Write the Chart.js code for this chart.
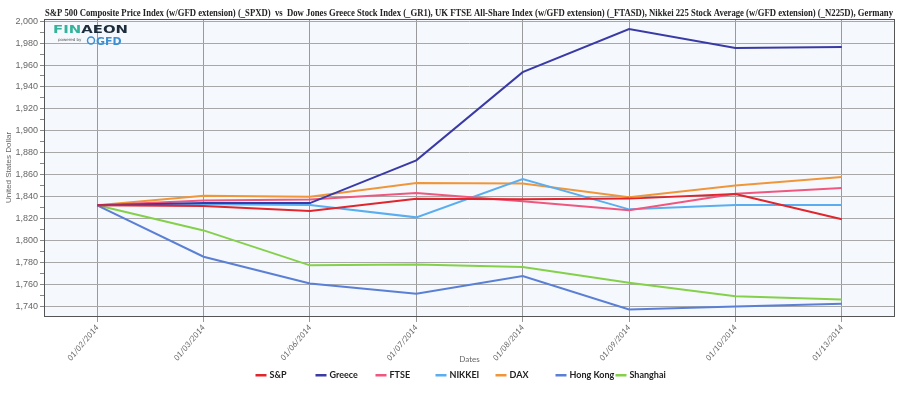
<!DOCTYPE html>
<html lang="en">
<head>
  <meta charset="UTF-8" />
  <title>S&amp;P 500 vs world indices</title>
  <script src="https://cdn.jsdelivr.net/npm/chart.js"></script>
  <style>
    html, body { margin: 0; padding: 0; background: #fff; }
    #wrap { width: 910px; height: 397px; }
  </style>
</head>
<body>
  <div id="wrap"><canvas id="chart" width="910" height="397"></canvas></div>
  <script>
    // Data (rebased to S&P 500 on 01/02/2014)
    const dates = ['01/02/2014','01/03/2014','01/06/2014','01/07/2014','01/08/2014','01/09/2014','01/10/2014','01/13/2014'];
    const sp       = [1832.0, 1831.4, 1826.8, 1837.9, 1837.5, 1838.1, 1842.4, 1819.2];
    const greece   = [1832.0, 1834.0, 1834.0, 1873.0, 1953.5, 1992.8, 1975.6, 1976.5];
    const ftse     = [1832.0, 1836.3, 1837.4, 1843.2, 1835.6, 1827.4, 1842.6, 1847.8];
    const nikkei   = [1832.0, 1833.0, 1832.2, 1821.0, 1856.0, 1828.3, 1832.2, 1832.2];
    const dax      = [1832.0, 1840.8, 1839.9, 1852.3, 1852.0, 1839.3, 1850.0, 1857.8];
    const hongKong = [1832.0, 1785.1, 1760.7, 1751.3, 1767.4, 1737.0, 1739.7, 1742.2];
    const shanghai = [1832.0, 1809.1, 1777.2, 1778.1, 1775.6, 1761.4, 1749.1, 1746.1];

    const titleText = 'S&P 500 Composite Price Index (w/GFD extension) (_SPXD)  vs  Dow Jones Greece Stock Index (_GR1), UK FTSE All-Share Index (w/GFD extension) (_FTASD), Nikkei 225 Stock Average (w/GFD extension) (_N225D), Germany';

    const series = [
      { label: 'S&P',       data: sp,       color: '#e0252d' },
      { label: 'Greece',    data: greece,   color: '#3a3aa6' },
      { label: 'FTSE',      data: ftse,     color: '#f0577f' },
      { label: 'NIKKEI',    data: nikkei,   color: '#5aaeef' },
      { label: 'DAX',       data: dax,      color: '#f0963a' },
      { label: 'Hong Kong', data: hongKong, color: '#5a7fd4' },
      { label: 'Shanghai',  data: shanghai, color: '#84d04a' }
    ];

    // plot background, border, title, logo and legend
    const decor = {
      id: 'decor',
      beforeDraw(chart) {
        const { ctx, chartArea: a } = chart;
        ctx.save();
        ctx.fillStyle = '#f5f9fd';
        ctx.fillRect(a.left, a.top, a.right - a.left, a.bottom - a.top);
        ctx.restore();
      },
      afterDraw(chart) {
        const { ctx, chartArea: a } = chart;
        ctx.save();
        ctx.strokeStyle = '#555';
        ctx.lineWidth = 1;
        ctx.strokeRect(a.left + 0.5, a.top + 0.5, a.right - a.left - 1, a.bottom - a.top);
        // title
        ctx.fillStyle = '#222';
        ctx.font = 'bold 10.5px "Liberation Serif"';
        ctx.textBaseline = 'middle';
        const w = ctx.measureText(titleText).width;
        ctx.translate(a.left + 1, 13.5);
        ctx.scale(848 / w, 1);
        ctx.fillText(titleText, 0, 0);
        ctx.restore();

        // logo
        ctx.save();
        ctx.textBaseline = 'alphabetic';
        ctx.font = 'bold 12px "DejaVu Sans"';
        ctx.fillStyle = '#33b39c';
        ctx.save();
        ctx.translate(a.left + 9, 33);
        const fw = ctx.measureText('FINAEON').width;
        ctx.scale(75 / fw, 0.9);
        ctx.fillText('FIN', 0, 0);
        const finW = ctx.measureText('FIN').width;
        ctx.fillStyle = '#1c2c3a';
        ctx.fillText('AEON', finW, 0);
        ctx.restore();
        ctx.font = '4px "DejaVu Sans"';
        ctx.fillStyle = '#555';
        ctx.fillText('powered by', a.left + 14, 41);
        ctx.strokeStyle = '#3f8fd0';
        ctx.lineWidth = 1.5;
        ctx.beginPath();
        ctx.arc(a.left + 47, 40.5, 3.5, 0, Math.PI * 2);
        ctx.stroke();
        ctx.font = 'bold 11px "DejaVu Sans"';
        ctx.fillStyle = '#3f8fd0';
        ctx.fillText('GFD', a.left + 52, 44.5);
        ctx.restore();

        // legend: fixed-width slots, centred under the plot
        const ds = chart.data.datasets;
        const slot = 60;
        let x = (a.left + a.right) / 2 - 4 - slot * ds.length / 2;
        ctx.save();
        ctx.font = 'bold 9px Lato';
        ctx.textBaseline = 'middle';
        ds.forEach(d => {
          ctx.fillStyle = d.borderColor;
          ctx.fillRect(x, 374, 11, 2.5);
          ctx.fillStyle = '#222';
          ctx.fillText(d.label, x + 14, 375);
          x += slot;
        });
        ctx.restore();
      }
    };

    new Chart(document.getElementById('chart'), {
      type: 'line',
      data: {
        labels: dates,
        datasets: series.map(s => ({
          label: s.label,
          data: s.data,
          borderColor: s.color,
          backgroundColor: s.color,
          borderWidth: 2,
          pointRadius: 0,
          tension: 0
        }))
      },
      options: {
        responsive: false,
        animation: false,
        layout: { padding: { top: 19, right: 15, left: 4, bottom: 31 } },
        plugins: {
          legend: { display: false },
          tooltip: { enabled: false }
        },
        scales: {
          x: {
            offset: true,
            afterFit(scale) { scale.height = 50; },
            grid: { color: '#9a9a9a', tickLength: 6, offset: false },
            border: { display: false },
            ticks: {
              color: '#666', maxRotation: 50, minRotation: 50, autoSkip: false,
              font: { family: 'Lato', size: 8, style: 'italic' }, padding: 1
            },
            title: {
              display: true, text: 'Dates', color: '#666',
              font: { family: 'Lato', size: 8 }, padding: { top: 0, bottom: 2 }
            }
          },
          y: {
            min: 1731, max: 2002,
            afterFit(scale) { scale.width = 40; },
            afterBuildTicks(scale) {
              scale.ticks = scale.ticks.filter(t => t.value >= 1731 && t.value <= 2002);
            },
            grid: {
              color: c => (c.tick && c.tick.value % 20 === 0) ? '#a8a8a8' : 'rgba(0,0,0,0)',
              tickColor: '#888', tickLength: 4, lineWidth: 1
            },
            border: { display: false },
            ticks: {
              stepSize: 10, autoSkip: false, includeBounds: false, padding: 2,
              color: '#666', font: { family: 'Liberation Sans', size: 9 },
              callback: v => v % 20 === 0 ? v.toLocaleString('en-US') : ''
            },
            title: {
              display: true, text: 'United States Dollar', color: '#666',
              font: { family: 'Liberation Sans', size: 8 }, padding: { top: 0, bottom: 2 }
            }
          }
        }
      },
      plugins: [decor]
    });
  </script>
</body>
</html>
